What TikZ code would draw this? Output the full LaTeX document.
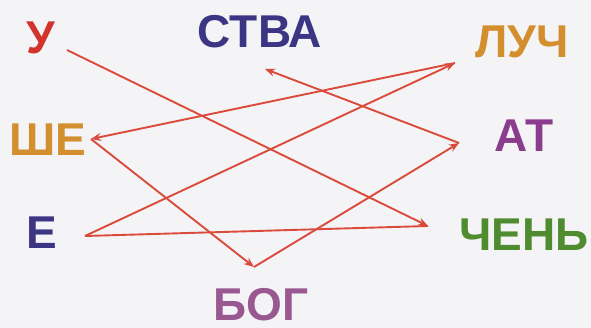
\documentclass[tikz,border=0pt]{standalone}
\usepackage{fontspec}
\setmainfont{Liberation Sans}
\usetikzlibrary{arrows.meta}
\definecolor{wred}{HTML}{D2332E}
\definecolor{wblue}{HTML}{3B3584}
\definecolor{worange}{HTML}{D38E2E}
\definecolor{wpurple}{HTML}{8C3C8C}
\definecolor{wmauve}{HTML}{995890}
\definecolor{wgreen}{HTML}{4F8B2F}
\definecolor{linered}{HTML}{DB4B3C}
\definecolor{paper}{HTML}{F4F4F6}
\begin{document}
\begin{tikzpicture}[x=1pt,y=-1pt,
    word/.style={inner sep=0pt,font=\fontsize{46}{46}\bfseries},
    link/.style={draw=linered,line width=1.9pt},
    arr/.style={link,-{Stealth[length=10pt,width=8pt]}}]
    \fill[paper] (0,0) rectangle (591,328);
    % words
    \node[word,text=wred] (u) at (41,38) {У};
    \node[word,text=wblue] (stva) at (260,32) {СТВА};
    \node[word,text=worange] (luch) at (522,42) {ЛУЧ};
    \node[word,text=worange] (she) at (48,140) {ШЕ};
    \node[word,text=wpurple] (at) at (524,136) {АТ};
    \node[word,text=wblue] (e) at (42,233) {Е};
    \node[word,text=wgreen] (chen) at (524,235) {ЧЕНЬ};
    \node[word,text=wmauve] (bog) at (261,305) {БОГ};
    % line ends
    \coordinate (pu) at (67,50);
    \coordinate (pchen) at (428,226);
    \coordinate (pe) at (85,236);
    \coordinate (pluch) at (455,63);
    \coordinate (pshe) at (91,139);
    \coordinate (pbog) at (254,267);
    \coordinate (pat) at (459,143);
    \coordinate (pstva) at (265,69);
    % chain of the proverb
    \draw[arr] (pu) -- (pchen);
    \draw[link] (pchen) -- (pe);
    \draw[arr] (pe) -- (pluch);
    \draw[arr] (pluch) -- (pshe);
    \draw[arr] (pshe) -- (pbog);
    \draw[arr] (pbog) -- (pat);
    \draw[arr] (pat) -- (pstva);
\end{tikzpicture}
\end{document}
